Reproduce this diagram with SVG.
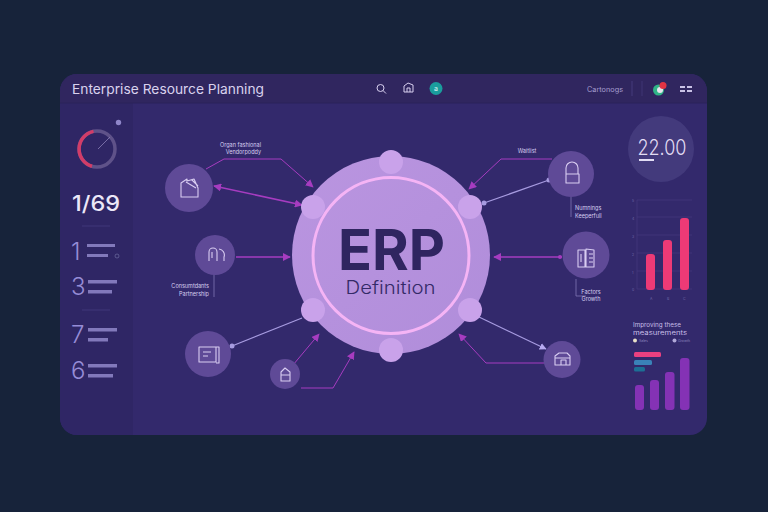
<svg xmlns="http://www.w3.org/2000/svg" width="768" height="512" viewBox="0 0 768 512">
<defs>
<style>
text{font-family:"Inter","Liberation Sans",sans-serif}
.n{fill:#5f4a97}
.ic{fill:none;stroke:#d9cdf2;stroke-width:1.1;stroke-linejoin:round}
.mg{fill:none;stroke:#a63cc0;stroke-width:1}
.mg2{fill:none;stroke:#a63cc0;stroke-width:1.5}
.lv{fill:none;stroke:#a79be0;stroke-width:1.2}
.bub{fill:#c9a2ea}
.t{fill:#d8cff0;font-size:5.500px}
.bar{fill:#8279bb}
.num{fill:#968cd6;font-size:24px;font-weight:300}
.g{stroke:#4c4284;stroke-width:.5}
.ax{fill:#6f66a5;font-size:3.500px}
</style>
<marker id="am" viewBox="0 0 10 10" refX="9" refY="5" markerWidth="8" markerHeight="8" orient="auto-start-reverse" markerUnits="userSpaceOnUse"><path d="M0 0L10 5L0 10Z" fill="#a63cc0"/></marker>
<marker id="al" viewBox="0 0 10 10" refX="9" refY="5" markerWidth="7" markerHeight="7" orient="auto" markerUnits="userSpaceOnUse"><path d="M0 0L10 5L0 10Z" fill="#b7aaf0"/></marker>
<linearGradient id="core" x1="0" y1="0" x2="1" y2="1"><stop offset="0" stop-color="#ba95e0"/><stop offset="1" stop-color="#b08dda"/></linearGradient>
</defs>
<rect width="768" height="512" fill="#17233a"/>
<g id="panel">
<rect x="60" y="74" width="647" height="361" rx="17" fill="#33296c"/>
<path d="M77 74H690a17 17 0 0 1 17 17V103H60V91a17 17 0 0 1 17-17Z" fill="#30265f"/>
<path d="M60 103H133V435H77a17 17 0 0 1-17-17Z" fill="#2f2665"/>
<line x1="60" y1="103" x2="707" y2="103" stroke="#2b225a" stroke-width="1"/>
</g>
<g id="header">
<text x="72" y="93.500" font-size="13.500" fill="#d9d2ee" textLength="192" lengthAdjust="spacingAndGlyphs">Enterprise Resource Planning</text>
<g fill="none" stroke="#d8d0f0" stroke-width="1"><circle cx="380.500" cy="88" r="3.500"/><line x1="383" y1="90.500" x2="386" y2="93.500"/></g>
<path d="M404 92V86L408 83L413 85V92ZM407 92V88H410V92" fill="none" stroke="#d8d0f0" stroke-width="1"/>
<circle cx="436" cy="88.500" r="6.500" fill="#1a9d9d"/><text x="436" y="91" font-size="7" text-anchor="middle" fill="#d8f2f2">a</text>
<text x="587" y="91.500" font-size="7" fill="#a69fd0" textLength="36" lengthAdjust="spacingAndGlyphs">Cartonogs</text>
<line x1="632" y1="81" x2="632" y2="96" stroke="#443a7c"/><line x1="642" y1="81" x2="642" y2="96" stroke="#3e3474"/>
<circle cx="658.500" cy="90" r="5.500" fill="#2fb487"/><circle cx="660" cy="90" r="3" fill="#e8e4ee"/><circle cx="663" cy="85.500" r="3.500" fill="#e23344"/>
<g fill="#c9c2e6"><rect x="680" y="86" width="5" height="2"/><rect x="687" y="86" width="5" height="2"/><rect x="680" y="90" width="5" height="2"/><rect x="687" y="90" width="5" height="2"/></g>
</g>
<g id="sidebar">
<circle cx="118.500" cy="122.500" r="2.700" fill="#8f86c9"/>
<circle cx="97" cy="149" r="18" fill="none" stroke="#5f5289" stroke-width="3.500"/>
<path d="M93.500 131.400A18 18 0 0 0 92 166.300" fill="none" stroke="#d23c68" stroke-width="3.500"/>
<line x1="98" y1="149" x2="110" y2="137" stroke="#8b80b8" stroke-width=".8"/>
<text x="72" y="211" font-size="21" font-weight="500" fill="#ece8f8" textLength="48" lengthAdjust="spacingAndGlyphs">1/69</text>
<line x1="82" y1="226" x2="110" y2="226" stroke="#40367a"/>
<text x="71" y="260" class="num">1</text><rect x="87" y="244" width="28" height="3" class="bar"/><rect x="87" y="254" width="21" height="3" class="bar"/><circle cx="117" cy="256" r="2" fill="none" stroke="#7777aa" stroke-width=".6"/>
<text x="71" y="295" class="num">3</text><rect x="88" y="280" width="29" height="3.500" class="bar"/><rect x="88" y="290" width="24" height="3.500" class="bar"/>
<line x1="82" y1="310" x2="110" y2="310" stroke="#40367a"/>
<text x="71" y="343" class="num">7</text><rect x="88" y="328" width="29" height="3.500" class="bar"/><rect x="88" y="338" width="20" height="3.500" class="bar"/>
<text x="71" y="379" class="num">6</text><rect x="88" y="364" width="29" height="3.500" class="bar"/><rect x="88" y="374" width="25" height="3.500" class="bar"/>
</g>
<g id="connectors">
<path class="mg" d="M206 169L224 159H281L313 187" marker-end="url(#am)"/>
<path class="mg2" d="M214 186L302 205" marker-start="url(#am)" marker-end="url(#am)"/>
<path class="mg2" d="M236 257H290" marker-end="url(#am)"/>
<path class="lv" d="M232 346L302 318"/><circle cx="232" cy="346" r="2.500" fill="#a79be0"/>
<path class="mg" d="M293 365L319 334" marker-end="url(#am)"/>
<path class="mg" d="M301 388H333L354 352" marker-end="url(#am)"/>
<path class="mg" d="M552 159H501L469 189" marker-end="url(#am)"/>
<path class="lv" d="M549 180L484 203"/><circle cx="549" cy="180" r="2.500" fill="#a79be0"/><circle cx="484" cy="203" r="2.500" fill="#a79be0"/>
<path class="mg2" d="M562 257H494" marker-end="url(#am)"/><circle cx="560" cy="257" r="2" fill="#a63cc0"/>
<path class="lv" d="M479 317L546 349" marker-end="url(#al)"/>
<path class="mg" d="M545 363H486L459 334" marker-end="url(#am)"/>
<path d="M571 197V217M576 279V296H586M214 267V297" fill="none" stroke="#8176b5" stroke-width=".8"/>
</g>
<g id="core">
<circle cx="391" cy="255" r="99" fill="url(#core)"/>
<circle cx="391" cy="255.500" r="78" fill="none" stroke="#f5b4f5" stroke-width="3"/>
<circle cx="391" cy="162" r="12" class="bub"/><circle cx="313" cy="207" r="12" class="bub"/><circle cx="470" cy="207" r="12" class="bub"/><circle cx="313" cy="310" r="12" class="bub"/><circle cx="470" cy="310" r="12" class="bub"/><circle cx="391" cy="350" r="12" class="bub"/>
<text x="391.500" y="270" font-size="56" font-weight="700" text-anchor="middle" fill="#2f2560" textLength="107" lengthAdjust="spacingAndGlyphs">ERP</text>
<text x="390.500" y="294" font-size="18" font-weight="300" text-anchor="middle" fill="#342a68" textLength="90" lengthAdjust="spacingAndGlyphs">Definition</text>
</g>
<g id="node-top-left"><circle cx="189" cy="188" r="24" class="n"/><path class="ic" d="M181 183L187 179V181L194 179L198 188V197H181ZM186 182L196 188M192 180L198 186"/>
<text x="261" y="147" text-anchor="end" class="t">Organ fashional</text><text x="261" y="154" text-anchor="end" class="t">Vendorpoddy</text></g>
<g id="node-left"><circle cx="215" cy="255" r="20" class="n"/><path class="ic" d="M209 261V252A4 4 0 0 1 217 252V261M212 252V258M219 249A6 6 0 0 1 224 257V261"/>
<text x="209" y="288" text-anchor="end" class="t">Consumtdants</text><text x="209" y="296" text-anchor="end" class="t">Partnership</text></g>
<g id="node-bottom-left"><circle cx="208" cy="354" r="23" class="n"/><path class="ic" d="M199 347H216V362H199ZM216 347H219V363H216M203 352H211M203 356H208"/></g>
<g id="node-bottom"><circle cx="285" cy="374" r="15" class="n"/><path class="ic" d="M281 372L285 368L290 372V381H281ZM281 375H290"/></g>
<g id="node-top-right"><circle cx="571" cy="174" r="23" class="n"/><path class="ic" d="M566 174V168A6 6 0 0 1 578 168V174M566 174H579V183H566Z"/>
<text x="527" y="153" text-anchor="middle" class="t">Waitlist</text><text x="575" y="210" class="t">Numnings</text><text x="575" y="218" class="t">Keeperfull</text></g>
<g id="node-right"><circle cx="586" cy="255" r="23.500" class="n"/><path class="ic" d="M578 250H585V267H578ZM586 249L594 250V267H586ZM589 254H593M589 258H593M589 262H593M581 254V262"/>
<text x="591" y="294" text-anchor="middle" class="t">Factors</text><text x="591" y="301" text-anchor="middle" class="t">Growth</text></g>
<g id="node-bottom-right"><circle cx="562" cy="359.500" r="18.500" class="n"/><path class="ic" d="M555 356L559 353H567L570 356V365H555ZM555 358H570M561 360H566V365H561Z"/></g>
<g id="clock">
<circle cx="661" cy="149" r="33" fill="#433a7c"/>
<text x="662" y="155" font-size="21" font-weight="300" text-anchor="middle" fill="#e2ddf4" textLength="49" lengthAdjust="spacingAndGlyphs">22.00</text>
<rect x="639" y="159" width="15" height="2" fill="#e2ddf4"/>
</g>
<g id="chart-bars">
<path class="g" d="M637 200H692M637 217H692M637 235H692M637 253H692M637 271H692M637 289H692M637 200V289"/>
<g><text x="632" y="202" class="ax">5</text><text x="632" y="220" class="ax">4</text><text x="632" y="238" class="ax">3</text><text x="632" y="256" class="ax">2</text><text x="632" y="274" class="ax">1</text><text x="632" y="291" class="ax">0</text><text x="650" y="300" class="ax">A</text><text x="667" y="300" class="ax">B</text><text x="683" y="300" class="ax">C</text></g>
<rect x="646" y="254" width="9" height="36" rx="3" fill="#ed3a76"/><rect x="663" y="240" width="9" height="50" rx="3" fill="#ed3a76"/><rect x="680" y="218" width="9" height="72" rx="3" fill="#ed3a76"/>
</g>
<g id="chart-legend">
<text x="633" y="327" font-size="6.500" fill="#c8bfe8" textLength="48" lengthAdjust="spacingAndGlyphs">Improving these</text>
<text x="633" y="334.500" font-size="6.500" fill="#c8bfe8" textLength="54" lengthAdjust="spacingAndGlyphs">measurements</text>
<circle cx="635" cy="340.500" r="2" fill="#e8e0c8"/><text x="639" y="342" font-size="3.500" fill="#8f86c0">Sales</text>
<circle cx="674.500" cy="340.500" r="2" fill="#b0a8d8"/><text x="678" y="342" font-size="3.500" fill="#8f86c0">Growth</text>
<rect x="634" y="352" width="27" height="5" rx="1.500" fill="#ea4080"/><rect x="634" y="360" width="18" height="5" rx="1.500" fill="#3a82b8"/><rect x="634" y="367" width="11" height="4.500" rx="1.500" fill="#1d6f95"/>
<rect x="635" y="385" width="9" height="25" rx="3" fill="#8432b5"/><rect x="650" y="380" width="9" height="30" rx="3" fill="#8432b5"/><rect x="665" y="372" width="9.500" height="38" rx="3" fill="#8432b5"/><rect x="680" y="358" width="9.500" height="52" rx="3" fill="#8432b5"/>
</g>
</svg>
